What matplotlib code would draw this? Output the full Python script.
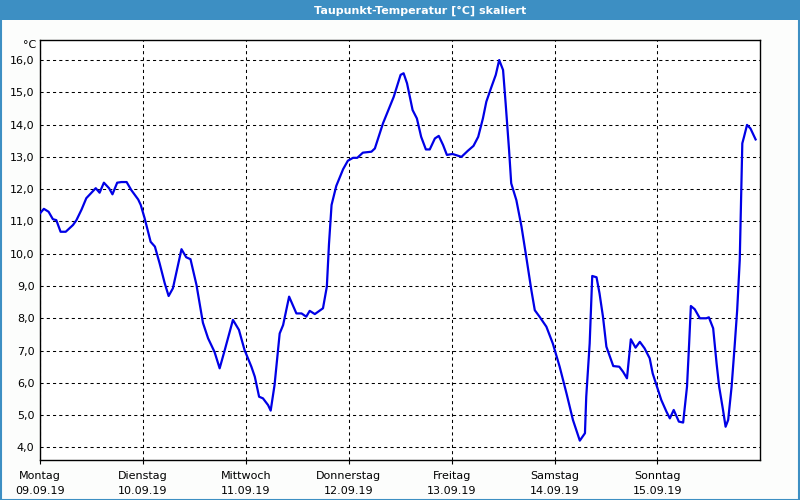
import matplotlib
matplotlib.use("Agg")
import matplotlib.pyplot as plt
from matplotlib.patches import Rectangle

title = "Taupunkt-Temperatur [°C] skaliert"
unit = "°C"
day_names = ["Montag", "Dienstag", "Mittwoch", "Donnerstag", "Freitag", "Samstag", "Sonntag"]
day_dates = ["09.09.19", "10.09.19", "11.09.19", "12.09.19", "13.09.19", "14.09.19", "15.09.19"]
y_ticks = [4.0, 5.0, 6.0, 7.0, 8.0, 9.0, 10.0, 11.0, 12.0, 13.0, 14.0, 15.0, 16.0]

# time in hours since Monday 00:00, dew point in °C
hours = [0.0, 0.9, 2.0, 3.0, 3.8, 4.8, 6.0, 7.7, 8.5, 9.7, 10.8, 12.0, 13.0, 13.9, 14.9,
         16.1, 16.9, 18.0, 19.0, 20.2, 21.3, 22.9, 23.5, 24.4, 25.8, 26.8, 27.9, 29.1,
         30.0, 31.0, 33.0, 34.1, 35.1, 36.5, 38.0, 39.2, 40.7, 41.9, 43.1, 45.0, 46.4,
         47.7, 49.3, 50.1, 51.1, 52.0, 53.2, 53.8, 54.7, 55.9, 56.7, 58.1, 59.8, 61.0,
         62.1, 62.9, 64.1, 66.0, 66.9, 67.4, 68.0, 69.1, 70.7, 71.8, 73.0, 74.0, 75.3,
         77.3, 78.1, 80.0, 82.5, 84.1, 84.8, 85.6, 86.9, 87.9, 88.9, 90.0, 90.9, 92.1,
         93.0, 94.0, 94.9, 96.2, 98.3, 99.8, 101.1, 102.2, 103.3, 104.1, 105.3, 106.3,
         107.1, 108.0, 108.6, 109.4, 109.9, 111.1, 112.3, 113.4, 114.6, 115.4, 116.5,
         118.1, 119.6, 121.2, 122.8, 124.3, 125.9, 127.1, 127.4, 128.2, 128.8, 129.8,
         130.5, 131.3, 132.1, 133.7, 135.1, 136.0, 136.9, 137.8, 138.9, 139.9, 141.0,
         142.2, 142.9, 143.9, 144.9, 146.1, 146.9, 147.8, 149.0, 150.0, 150.9, 151.4,
         151.8, 152.7, 153.9, 155.4, 156.0, 157.0, 157.8, 158.4, 159.3, 159.9, 160.5,
         161.3, 162.0, 162.6, 163.2, 163.8, 164.2, 164.9, 165.7, 166.9]
dewpoint = [11.25, 11.39, 11.30, 11.07, 11.04, 10.68, 10.68, 10.89, 11.04, 11.37, 11.72,
            11.89, 12.03, 11.89, 12.20, 12.03, 11.84, 12.20, 12.22, 12.22, 11.97, 11.68,
            11.51, 11.10, 10.37, 10.22, 9.70, 9.08, 8.69, 8.93, 10.14, 9.89, 9.83, 9.03,
            7.86, 7.38, 6.96, 6.45, 7.02, 7.95, 7.64, 7.02, 6.50, 6.19, 5.57, 5.52, 5.31,
            5.14, 5.93, 7.53, 7.79, 8.67, 8.15, 8.15, 8.05, 8.23, 8.13, 8.31, 8.98, 10.30,
            11.51, 12.10, 12.62, 12.88, 12.97, 12.97, 13.13, 13.16, 13.26, 14.04, 14.86,
            15.54, 15.59, 15.28, 14.45, 14.19, 13.62, 13.23, 13.23, 13.57, 13.65, 13.37,
            13.06, 13.09, 13.00, 13.19, 13.34, 13.62, 14.19, 14.71, 15.17, 15.54, 16.00,
            15.69, 14.66, 13.21, 12.18, 11.66, 10.84, 9.91, 8.87, 8.25, 8.05, 7.74, 7.22,
            6.50, 5.67, 4.85, 4.21, 4.44, 5.57, 7.22, 9.31, 9.27, 8.77, 8.05, 7.12, 6.52,
            6.50, 6.34, 6.14, 7.35, 7.09, 7.27, 7.07, 6.76, 6.29, 5.88, 5.47, 5.11, 4.90,
            5.16, 4.80, 4.77, 5.88, 7.22, 8.38, 8.28, 8.00, 8.00, 8.03, 7.69, 6.60, 5.88,
            5.16, 4.64, 4.85, 5.88, 7.12, 8.25, 9.80, 13.42, 13.62, 13.99, 13.88, 13.54]

plt.rcParams['font.family'] = ['DejaVu Sans']

fig = plt.figure(figsize=(8, 5), dpi=100, facecolor='#fcfdfc')

# title bar
fig.patches.append(Rectangle((0, 0.96), 1, 0.04, transform=fig.transFigure,
                             facecolor='#3d8fc3', edgecolor='none', zorder=0))
# outer border
fig.patches.append(Rectangle((0.001, 0.001), 0.998, 0.998, transform=fig.transFigure,
                             facecolor='none', edgecolor='#3d8fc3', linewidth=1.5, zorder=1))
fig.text(0.525, 0.979, title, color='white', fontsize=8, fontweight='bold',
         ha='center', va='center')

ax = fig.add_axes([0.05, 0.08, 0.9004, 0.84])
ax.set_facecolor('white')
ax.plot(hours, dewpoint, color='#0000e6', linewidth=1.6, zorder=3)

ax.set_xlim(0, 168)
ax.set_ylim(3.61, 16.62)

ax.set_yticks(y_ticks)
ax.set_yticklabels([f"{v:.1f}".replace('.', ',') for v in y_ticks])
ax.set_xticks([24 * i for i in range(7)])
ax.set_xticklabels([f"{n}\n{d}" for n, d in zip(day_names, day_dates)], linespacing=1.55)

ax.tick_params(axis='y', length=0, pad=4, labelsize=8, colors='#000000')
ax.tick_params(axis='x', direction='out', length=3, width=0.8, pad=5, labelsize=8)

ax.grid(True, color='black', linewidth=0.75, linestyle=(0, (3, 3)))
ax.set_axisbelow(True)
for s in ax.spines.values():
    s.set_color('black')
    s.set_linewidth(1.0)

fig.text(0.045, 0.91, unit, fontsize=8, ha='right', va='center')

fig.savefig('out.png', dpi=100, facecolor=fig.get_facecolor())
